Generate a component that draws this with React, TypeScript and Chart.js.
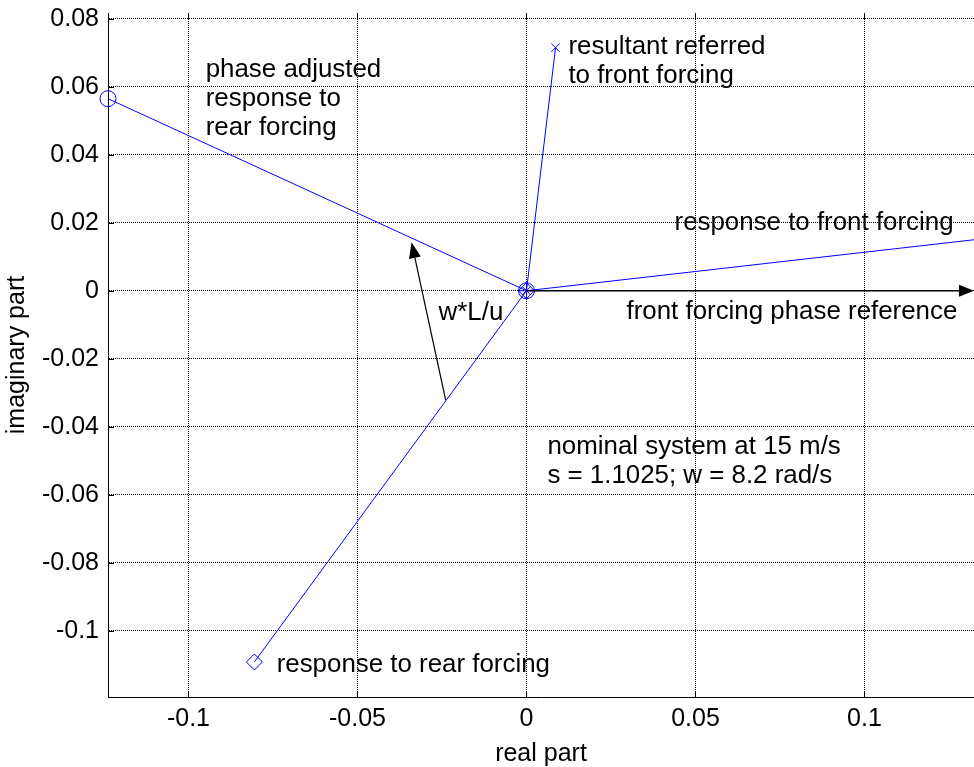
import React, { useEffect, useRef } from "react";
import { Chart, registerables } from "chart.js";

Chart.register(...registerables);

// ---- axis data ----
const xTicks = [-0.1, -0.05, 0, 0.05, 0.1];
const yTicks = [-0.1, -0.08, -0.06, -0.04, -0.02, 0, 0.02, 0.04, 0.06, 0.08];
const xLimits = [-0.1238, 0.1324];
const yLimits = [-0.1195, 0.0817];

// ---- series (real / imaginary parts) ----
const frontRe = [0, 0.1324];
const frontIm = [0, 0.015];
const rearRe = [0, -0.0805];
const rearIm = [0, -0.1092];
const phaseAdjRe = [0, -0.1238];
const phaseAdjIm = [0, 0.0565];
const resultantRe = [0, 0.0086];
const resultantIm = [0, 0.0715];

// ---- arrows (data coords: start, end) ----
const phaseRefArrowRe = [0, 0.1324];
const phaseRefArrowIm = [0, 0];
const wLuArrowRe = [-0.0239, -0.034];
const wLuArrowIm = [-0.0322, 0.0143];

// ---- text annotations ----
const labelTexts = [
  ["phase adjusted", "response to", "rear forcing"],
  ["resultant referred", "to front forcing"],
  ["response to front forcing"],
  ["front forcing phase reference"],
  ["w*L/u"],
  ["nominal system at 15 m/s", "s = 1.1025; w = 8.2 rad/s"],
  ["response to rear forcing"],
];
const labelRe = [-0.0949, 0.0124, 0.0438, 0.0296, -0.026, 0.0062, -0.0739];
const labelIm = [0.0628, 0.0696, 0.0178, -0.0084, -0.0087, -0.0481, -0.1122];

const FONT = "Liberation Sans, Arial, Helvetica, sans-serif";
const FS = 25;
const BLUE = "#0000ff";

const toPts = (re: number[], im: number[]) => re.map((x, i) => ({ x, y: im[i] }));

const fmt = (v: number) => String(Number(v.toFixed(4)));

function drawArrow(ctx: CanvasRenderingContext2D, x0: number, y0: number, x1: number, y1: number, lw: number, len: number, half: number) {
  const ang = Math.atan2(y1 - y0, x1 - x0);
  const bx = x1 - len * Math.cos(ang);
  const by = y1 - len * Math.sin(ang);
  ctx.beginPath();
  ctx.lineWidth = lw;
  ctx.strokeStyle = "#000";
  ctx.moveTo(x0, y0);
  ctx.lineTo(bx, by);
  ctx.stroke();
  ctx.beginPath();
  ctx.fillStyle = "#000";
  ctx.moveTo(x1, y1);
  ctx.lineTo(bx + half * Math.sin(ang), by - half * Math.cos(ang));
  ctx.lineTo(bx - half * Math.sin(ang), by + half * Math.cos(ang));
  ctx.closePath();
  ctx.fill();
}

const annotationPlugin = {
  id: "annotations",
  afterDatasetsDraw(chart: any) {
    const ctx: CanvasRenderingContext2D = chart.ctx;
    const xs = chart.scales.x;
    const ys = chart.scales.y;
    const area = chart.chartArea;
    ctx.save();
    // inward tick marks
    ctx.strokeStyle = "#000";
    ctx.lineWidth = 1;
    ctx.beginPath();
    xTicks.forEach((v) => {
      const px = Math.round(xs.getPixelForValue(v)) + 0.5;
      ctx.moveTo(px, area.bottom);
      ctx.lineTo(px, area.bottom - 6);
      ctx.moveTo(px, area.top);
      ctx.lineTo(px, area.top + 6);
    });
    yTicks.forEach((v) => {
      const py = Math.round(ys.getPixelForValue(v)) + 0.5;
      ctx.moveTo(area.left, py);
      ctx.lineTo(area.left + 6, py);
    });
    ctx.stroke();

    // arrows
    drawArrow(
      ctx,
      xs.getPixelForValue(phaseRefArrowRe[0]),
      ys.getPixelForValue(phaseRefArrowIm[0]),
      xs.getPixelForValue(phaseRefArrowRe[1]),
      ys.getPixelForValue(phaseRefArrowIm[1]),
      1.5, 15, 6
    );
    drawArrow(
      ctx,
      xs.getPixelForValue(wLuArrowRe[0]),
      ys.getPixelForValue(wLuArrowIm[0]),
      xs.getPixelForValue(wLuArrowRe[1]),
      ys.getPixelForValue(wLuArrowIm[1]),
      1.2, 16, 6
    );

    // texts (slightly widened, as in the original rendering)
    ctx.fillStyle = "#000";
    ctx.font = `${FS}px ${FONT}`;
    ctx.textAlign = "left";
    ctx.textBaseline = "alphabetic";
    labelTexts.forEach((lines, i) => {
      const px = xs.getPixelForValue(labelRe[i]);
      const py = ys.getPixelForValue(labelIm[i]);
      lines.forEach((t, j) => {
        ctx.save();
        ctx.translate(px, py + j * 29);
        ctx.scale(1.035, 1);
        ctx.fillText(t, 0, 0);
        ctx.restore();
      });
    });
    ctx.restore();
  },
};

export default function App() {
  const ref = useRef<HTMLCanvasElement | null>(null);
  useEffect(() => {
    if (!ref.current) return;
    const lineDs = (label: string, re: number[], im: number[], style: string, r: number | number[]) => ({
      label,
      data: toPts(re, im),
      showLine: true,
      borderColor: BLUE,
      borderWidth: 1,
      backgroundColor: "rgba(0,0,0,0)",
      pointStyle: style,
      pointRadius: r,
      pointBorderColor: BLUE,
      pointBorderWidth: 1,
      pointBackgroundColor: "rgba(0,0,0,0)",
      clip: false,
    });
    const chart = new Chart(ref.current, {
      type: "scatter",
      data: {
        datasets: [
          lineDs("response to front forcing", frontRe, frontIm, "cross", [7, 0]),
          lineDs("response to rear forcing", rearRe, rearIm, "rectRot", 8),
          lineDs("phase adjusted response to rear forcing", phaseAdjRe, phaseAdjIm, "circle", 8),
          lineDs("resultant referred to front forcing", resultantRe, resultantIm, "crossRot", 6),
        ] as any,
      },
      options: {
        animation: false,
        responsive: false,
        devicePixelRatio: 1,
        layout: { autoPadding: false, padding: { top: 13, right: 0, left: 0, bottom: 0 } },
        plugins: { legend: { display: false }, tooltip: { enabled: false } },
        scales: {
          x: {
            type: "linear",
            min: xLimits[0],
            max: xLimits[1],
            afterBuildTicks: (s: any) => {
              s.ticks = xTicks.map((v) => ({ value: v }));
            },
            afterFit: (s: any) => {
              s.height = 70;
              s.paddingLeft = 0;
              s.paddingRight = 0;
            },
            ticks: {
              includeBounds: false,
              autoSkip: false,
              maxRotation: 0,
              padding: 7,
              color: "#000",
              font: { family: FONT, size: FS },
              callback: (v: any) => fmt(Number(v)),
            },
            grid: { color: "#000", lineWidth: 1, drawTicks: false },
            border: { display: true, color: "#000", width: 1, dash: [1, 1] },
            title: {
              display: true,
              text: "real part",
              color: "#000",
              font: { family: FONT, size: FS, lineHeight: 1 },
              padding: { top: 0, bottom: 0 },
            },
          },
          y: {
            type: "linear",
            min: yLimits[0],
            max: yLimits[1],
            afterBuildTicks: (s: any) => {
              s.ticks = yTicks.map((v) => ({ value: v }));
            },
            afterFit: (s: any) => {
              s.width = 108;
              s.paddingTop = 0;
              s.paddingBottom = 0;
            },
            ticks: {
              includeBounds: false,
              autoSkip: false,
              padding: 9,
              color: "#000",
              font: { family: FONT, size: FS },
              callback: (v: any) => fmt(Number(v)),
            },
            grid: { color: "#000", lineWidth: 1, drawTicks: false },
            border: { display: true, color: "#000", width: 1, dash: [1, 1] },
            title: {
              display: true,
              text: "imaginary part",
              color: "#000",
              font: { family: FONT, size: FS, lineHeight: 1 },
              padding: { top: 5, bottom: 0 },
            },
          },
        },
      } as any,
      plugins: [annotationPlugin],
    });
    return () => chart.destroy();
  }, []);
  return (
    <div style={{ position: "absolute", left: 0, top: 0, width: 974, height: 767, background: "#fff" }}>
      <canvas ref={ref} width={974} height={767} style={{ display: "block" }} />
    </div>
  );
}
